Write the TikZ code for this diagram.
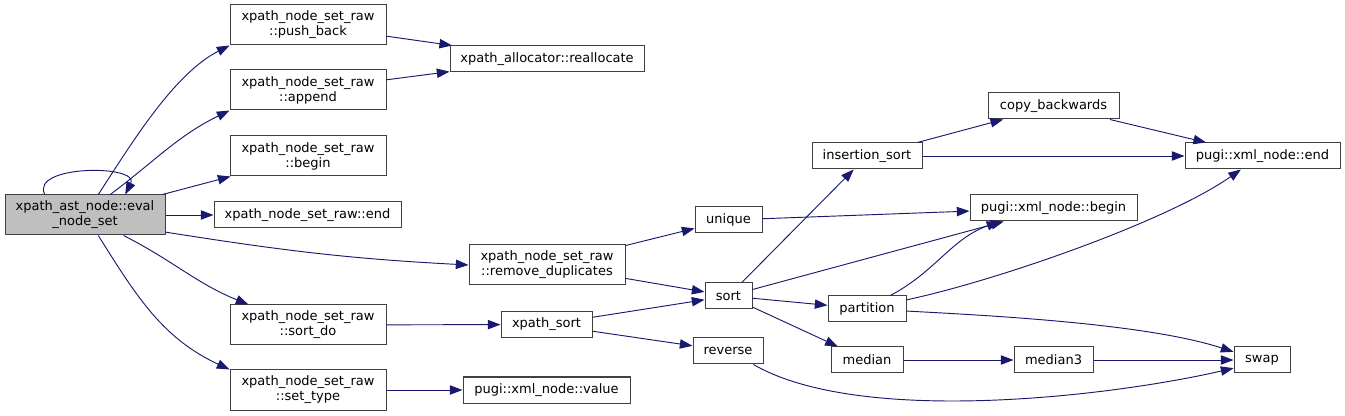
\documentclass[tikz,border=0pt]{standalone}
\usepackage{fontspec}
\setmainfont{DejaVu Sans}
\usetikzlibrary{arrows.meta}
\definecolor{edgeblue}{HTML}{191970}
\definecolor{boxline}{HTML}{404040}
\definecolor{curfill}{HTML}{BFBFBF}

\begin{document}
\begin{tikzpicture}[
  x=0.75pt, y=-0.75pt,
  fn/.style={draw=boxline, line width=0.75pt, fill=white, inner sep=0pt, minimum height=19.5pt, align=center, font=\fontsize{9.75}{11.25}\selectfont},
  fntwo/.style={fn, minimum height=30pt, minimum width=117pt},
  call/.style={draw=edgeblue, line width=0.7pt, -{Triangle[length=9.5pt, width=7pt]}}
]
\fill[white] (0,0) rectangle (1345,416);
\useasboundingbox (0,0) rectangle (1345,416);

% caller
\node[fntwo, fill=curfill, minimum width=120pt] (eval) at (85,215) {xpath\_ast\_node::eval\\\_node\_set};

% first column
\node[fntwo] (pushback) at (308,25) {xpath\_node\_set\_raw\\::push\_back};
\node[fntwo] (append) at (308,90) {xpath\_node\_set\_raw\\::append};
\node[fntwo] (rawbegin) at (308,156) {xpath\_node\_set\_raw\\::begin};
\node[fn, minimum width=140.25pt] (rawend) at (307.5,215) {xpath\_node\_set\_raw::end};
\node[fntwo] (sortdo) at (308,325) {xpath\_node\_set\_raw\\::sort\_do};
\node[fntwo] (settype) at (308,390) {xpath\_node\_set\_raw\\::set\_type};

% second column
\node[fn, minimum width=145.5pt] (realloc) at (547,59) {xpath\_allocator::reallocate};
\node[fntwo] (remdup) at (547,265) {xpath\_node\_set\_raw\\::remove\_duplicates};
\node[fn, minimum width=68.25pt] (xsort) at (546.5,324.5) {xpath\_sort};
\node[fn, minimum width=125.25pt] (value) at (546.5,390) {pugi::xml\_node::value};

% third column
\node[fn, minimum width=50.25pt] (unique) at (728.5,220) {unique};
\node[fn, minimum width=35.25pt] (sort) at (728.5,296) {sort};
\node[fn, minimum width=52.5pt] (reverse) at (728,351) {reverse};

% fourth column
\node[fn, minimum width=82.5pt] (inssort) at (867,156) {insertion\_sort};
\node[fn, minimum width=58.5pt] (partition) at (867,309) {partition};
\node[fn, minimum width=54pt] (median) at (867,360) {median};

% fifth column
\node[fn, minimum width=98.25pt] (copyback) at (1053.5,106) {copy\_backwards};
\node[fn, minimum width=125.25pt] (xbegin) at (1053.5,208) {pugi::xml\_node::begin};
\node[fn, minimum width=59.25pt] (median3) at (1053.5,360) {median3};

% last column
\node[fn, minimum width=116.25pt] (xend) at (1262.5,156) {pugi::xml\_node::end};
\node[fn, minimum width=42pt] (swap) at (1262,360) {swap};

% calls from eval_node_set
\draw[call] (eval.153) .. controls +(-15,-30) and +(15,-30) .. (eval.27);
\draw[call] (eval.57) to[out=57, in=207, looseness=0.8] (pushback.south west);
\draw[call] (eval.39) to[out=37, in=206] (append.south west);
\draw[call] (eval) -- (rawbegin);
\draw[call] (eval) -- (rawend);
\draw[call] (eval.-12) to[out=-9, in=177] (remdup.west);
\draw[call] (eval.-28) to[out=-27, in=158] (sortdo.161);
\draw[call] (eval.-57) to[out=-58, in=155] (settype.north west);

% second level
\draw[call] (pushback) -- (realloc);
\draw[call] (append) -- (realloc);
\draw[call] (remdup) -- (unique);
\draw[call] (remdup) -- (sort);
\draw[call] (sortdo) -- (xsort);
\draw[call] (settype) -- (value);
\draw[call] (xsort) -- (sort);
\draw[call] (xsort) -- (reverse);

% sorting helpers
\draw[call] (unique) -- (xbegin);
\draw[call] (sort) -- (inssort);
\draw[call] (sort) -- (xbegin);
\draw[call] (sort) -- (partition);
\draw[call] (sort) -- (median);
\draw[call] (reverse.-28) to[out=-30, in=193, looseness=0.66] (swap.196);
\draw[call] (inssort) -- (copyback);
\draw[call] (inssort) -- (xend);
\draw[call] (copyback) -- (xend);
\draw[call] (partition.30) to[out=28, in=200] (xbegin.194);
\draw[call] (partition.13) to[out=12, in=215, looseness=0.65] (xend.212);
\draw[call] (partition.-3) to[out=-3, in=162, looseness=0.7] (swap.164);
\draw[call] (median) -- (median3);
\draw[call] (median3) -- (swap);
\end{tikzpicture}
\end{document}
